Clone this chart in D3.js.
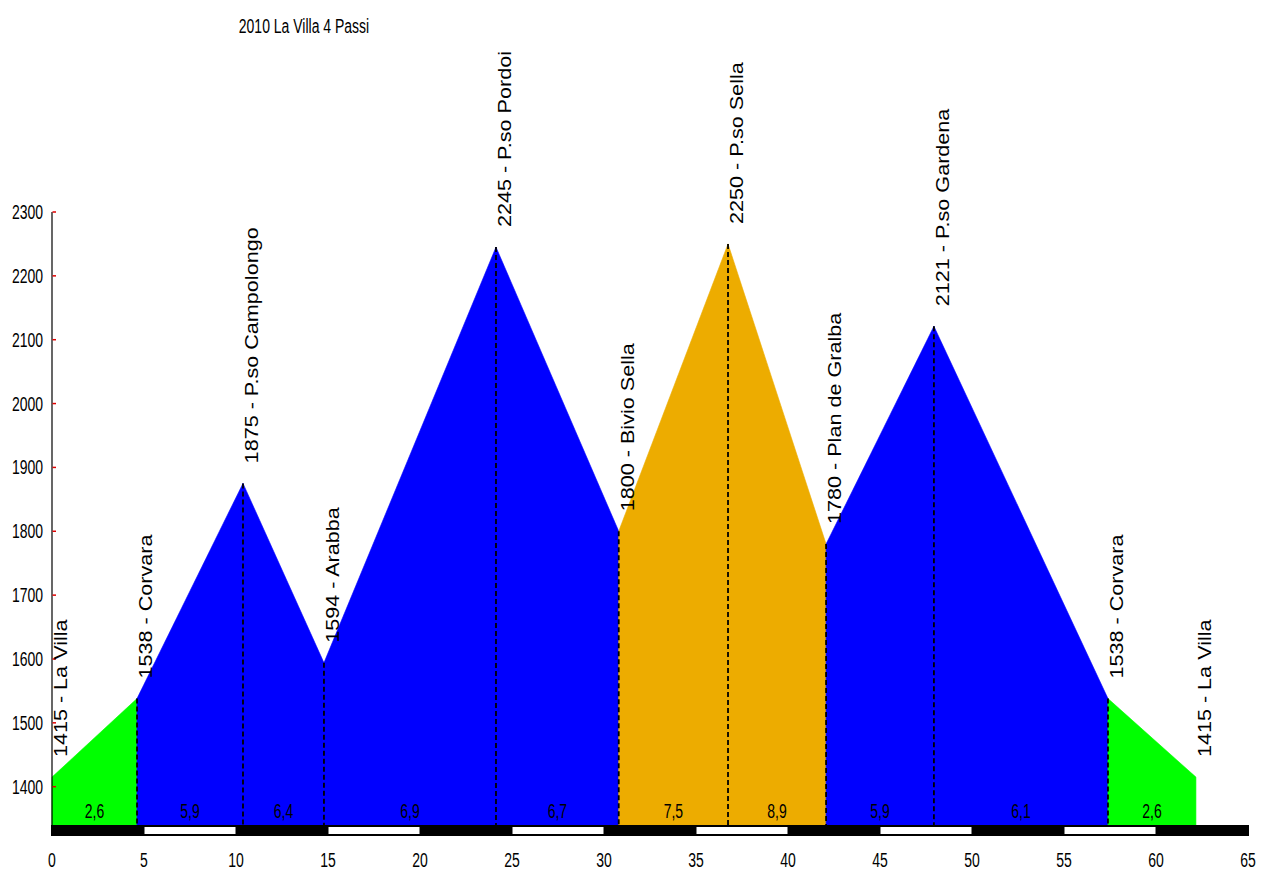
<!DOCTYPE html>
<html>
<head>
<meta charset="utf-8">
<script src="https://cdn.jsdelivr.net/npm/d3@7"></script>
<style>
  body { margin: 0; background: #fff; }
  text { font-family: "Liberation Sans", Arial, sans-serif; fill: #000; }
</style>
</head>
<body>
<div id="profile"></div>
<script>
// route points: distance (km), altitude (m), name
const pointKm = [0, 4.62, 10.38, 14.78, 24.13, 30.8, 36.74, 42.07, 47.93, 57.39, 62.17];
const pointAlt = [1415, 1538, 1875, 1594, 2245, 1800, 2250, 1780, 2121, 1538, 1415];
const pointNames = ["La Villa", "Corvara", "P.so Campolongo", "Arabba", "P.so Pordoi",
  "Bivio Sella", "P.so Sella", "Plan de Gralba", "P.so Gardena", "Corvara", "La Villa"];

// average gradient of each segment (%), and its colour class
const gradients = ["2,6", "5,9", "6,4", "6,9", "6,7", "7,5", "8,9", "5,9", "6,1", "2,6"];
const segmentType = ["flat", "climb", "climb", "climb", "climb", "sella", "sella", "climb", "climb", "flat"];

const yTicks = [1400, 1500, 1600, 1700, 1800, 1900, 2000, 2100, 2200, 2300];
const xTicks = [0, 5, 10, 15, 20, 25, 30, 35, 40, 45, 50, 55, 60, 65];
const title = "2010 La Villa 4 Passi";

const width = 1261, height = 872;

const svg = d3.select("#profile").append("svg")
  .attr("width", width)
  .attr("height", height);

const x = d3.scaleLinear().domain([0, 65]).range([52, 1248]);
const y = d3.scaleLinear().domain([1340, 2300]).range([825, 212]);

const color = d3.scaleOrdinal()
  .domain(["flat", "climb", "sella"])
  .range(["#00ff00", "#0000ff", "#edac00"]);

// filled segments
const area = d3.area()
  .x(d => x(d.km))
  .y0(y(1340))
  .y1(d => y(d.alt));

gradients.forEach((g, i) => {
  const seg = [
    {km: pointKm[i], alt: pointAlt[i]},
    {km: pointKm[i + 1], alt: pointAlt[i + 1]}
  ];
  svg.append("path")
    .datum(seg)
    .attr("d", area)
    .attr("fill", color(segmentType[i]))
    .attr("stroke", color(segmentType[i]))
    .attr("stroke-width", 0.6);
});

// dashed verticals at the inner points
pointKm.forEach((km, i) => {
  if (i == 0 || i == pointKm.length - 1) return;
  svg.append("line")
    .attr("x1", x(km)).attr("x2", x(km))
    .attr("y1", y(pointAlt[i])).attr("y2", y(1340))
    .attr("stroke", "#000")
    .attr("stroke-width", 1.8)
    .attr("stroke-dasharray", "5,3");
});

// gradient labels
gradients.forEach((g, i) => {
  const mid = (pointKm[i] + pointKm[i + 1]) / 2;
  svg.append("text")
    .attr("transform", `translate(${x(mid)},818) scale(1,1.5)`)
    .attr("text-anchor", "middle")
    .attr("font-size", 14)
    .text(g);
});

// km scale bar (black / white every 5 km)
svg.append("rect")
  .attr("x", x(0) - 1).attr("y", 825)
  .attr("width", x(65) - x(0) + 2).attr("height", 11)
  .attr("fill", "#000");

xTicks.slice(0, -1).forEach((t, i) => {
  if (i % 2 == 0) return;
  svg.append("rect")
    .attr("x", x(t) + 0.5).attr("y", 827)
    .attr("width", x(t + 5) - x(t) - 1).attr("height", 7)
    .attr("fill", "#fff");
});

// y axis
svg.append("line")
  .attr("x1", x(0)).attr("x2", x(0))
  .attr("y1", y(2300)).attr("y2", 825)
  .attr("stroke", "#000")
  .attr("stroke-width", 1.2);

yTicks.forEach(t => {
  svg.append("line")
    .attr("x1", x(0) + 0.5).attr("x2", x(0) + 4)
    .attr("y1", y(t)).attr("y2", y(t))
    .attr("stroke", "#e00000")
    .attr("stroke-width", 1.5);
  svg.append("text")
    .attr("transform", `translate(43,${y(t) + 7}) scale(1,1.5)`)
    .attr("text-anchor", "end")
    .attr("font-size", 14)
    .text(t);
});

// x tick labels
xTicks.forEach(t => {
  svg.append("text")
    .attr("transform", `translate(${x(t)},866.5) scale(1,1.4)`)
    .attr("text-anchor", "middle")
    .attr("font-size", 14)
    .text(t);
});

// point labels, rotated
pointKm.forEach((km, i) => {
  svg.append("text")
    .attr("transform", `translate(${x(km) + 15},${y(pointAlt[i]) - 20}) rotate(-90) scale(1.2,1)`)
    .attr("text-anchor", "start")
    .attr("font-size", 18)
    .text(pointAlt[i] + " - " + pointNames[i]);
});

// title
svg.append("text")
  .attr("transform", "translate(304,33) scale(1,1.5)")
  .attr("text-anchor", "middle")
  .attr("font-size", 14)
  .text(title);
</script>
</body>
</html>
